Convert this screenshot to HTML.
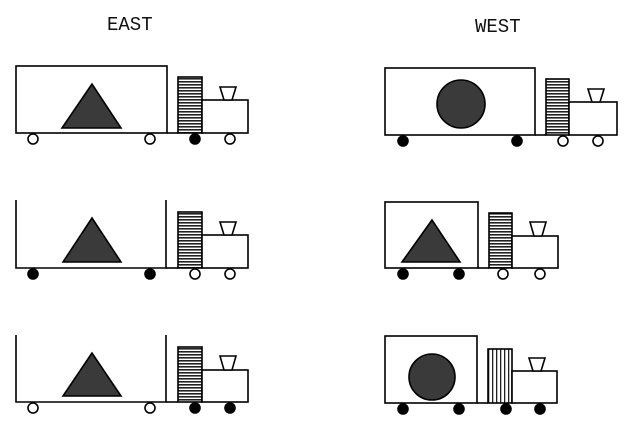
<!DOCTYPE html>
<html><head><meta charset="utf-8"><style>html,body{margin:0;padding:0;background:#fff}svg{display:block}.t{font-family:"Liberation Mono","Courier New",monospace;font-size:19px;fill:#111}</style></head>
<body>
<svg width="627" height="426" viewBox="0 0 627 426" xmlns="http://www.w3.org/2000/svg">
<defs>
<pattern id="hh" width="4" height="3" patternUnits="userSpaceOnUse"><rect width="4" height="3" fill="#fff"/><rect width="4" height="1.6" fill="#222"/></pattern>
<pattern id="vh" width="4" height="4" patternUnits="userSpaceOnUse"><rect width="4" height="4" fill="#fff"/><rect width="1.3" height="4" fill="#222"/></pattern>
</defs>
<text class="t" x="107" y="30">EAST</text>
<text class="t" x="475" y="32">WEST</text>
<g stroke="#000" stroke-width="1.6" fill="none">
<g>
<rect x="16" y="66" width="151" height="67" fill="#fff"/>
<polygon points="92,84 62,128 121,128" fill="#3a3a3a"/>
<line x1="167" y1="133" x2="178" y2="133"/>
<rect x="178" y="77" width="24" height="56" fill="url(#hh)"/>
<rect x="202" y="100" width="46" height="33" fill="#fff"/>
<polygon points="220,87 236,87 232,100 224,100" fill="#fff"/>
<circle cx="33" cy="139" r="5" fill="#fff"/><circle cx="150" cy="139" r="5" fill="#fff"/>
<circle cx="195" cy="139" r="5" fill="#000"/><circle cx="230" cy="139" r="5" fill="#fff"/>
</g>
<g>
<polyline points="16,200 16,268 166,268 166,200"/>
<polygon points="92,218 63,262 121,262" fill="#3a3a3a"/>
<line x1="166" y1="268" x2="178" y2="268"/>
<rect x="178" y="212" width="24" height="56" fill="url(#hh)"/>
<rect x="202" y="235" width="46" height="33" fill="#fff"/>
<polygon points="220,222 236,222 232,235 224,235" fill="#fff"/>
<circle cx="33" cy="274" r="5" fill="#000"/><circle cx="150" cy="274" r="5" fill="#000"/>
<circle cx="195" cy="274" r="5" fill="#fff"/><circle cx="230" cy="274" r="5" fill="#fff"/>
</g>
<g>
<polyline points="16,335 16,402 166,402 166,335"/>
<polygon points="92,353 63,396 121,396" fill="#3a3a3a"/>
<line x1="166" y1="402" x2="178" y2="402"/>
<rect x="178" y="347" width="24" height="55" fill="url(#hh)"/>
<rect x="202" y="370" width="46" height="32" fill="#fff"/>
<polygon points="220,356 236,356 232,370 224,370" fill="#fff"/>
<circle cx="33" cy="408" r="5" fill="#fff"/><circle cx="150" cy="408" r="5" fill="#fff"/>
<circle cx="195" cy="408" r="5" fill="#000"/><circle cx="230" cy="408" r="5" fill="#000"/>
</g>
<g>
<rect x="385" y="68" width="150" height="67" fill="#fff"/>
<circle cx="461" cy="104" r="24" fill="#3a3a3a"/>
<line x1="535" y1="135" x2="546" y2="135"/>
<rect x="546" y="79" width="23" height="56" fill="url(#hh)"/>
<rect x="569" y="102" width="48" height="33" fill="#fff"/>
<polygon points="588,89 604,89 600,102 592,102" fill="#fff"/>
<circle cx="403" cy="141" r="5" fill="#000"/><circle cx="517" cy="141" r="5" fill="#000"/>
<circle cx="563" cy="141" r="5" fill="#fff"/><circle cx="598" cy="141" r="5" fill="#fff"/>
</g>
<g>
<rect x="385" y="202" width="93" height="66" fill="#fff"/>
<polygon points="432,220 402,262 460,262" fill="#3a3a3a"/>
<line x1="478" y1="268" x2="489" y2="268"/>
<rect x="489" y="213" width="23" height="55" fill="url(#hh)"/>
<rect x="512" y="236" width="46" height="32" fill="#fff"/>
<polygon points="530,222 546,222 542,236 534,236" fill="#fff"/>
<circle cx="403" cy="274" r="5" fill="#000"/><circle cx="459" cy="274" r="5" fill="#000"/>
<circle cx="503" cy="274" r="5" fill="#fff"/><circle cx="540" cy="274" r="5" fill="#fff"/>
</g>
<g>
<rect x="385" y="336" width="92" height="67" fill="#fff"/>
<circle cx="432" cy="377" r="23" fill="#3a3a3a"/>
<line x1="477" y1="403" x2="488" y2="403"/>
<rect x="488" y="349" width="24" height="54" fill="url(#vh)"/>
<rect x="512" y="371" width="45" height="32" fill="#fff"/>
<polygon points="529,358 545,358 541,371 533,371" fill="#fff"/>
<circle cx="403" cy="409" r="5" fill="#000"/><circle cx="459" cy="409" r="5" fill="#000"/>
<circle cx="506" cy="409" r="5" fill="#000"/><circle cx="540" cy="409" r="5" fill="#000"/>
</g>
</g>
</svg>
</body></html>
